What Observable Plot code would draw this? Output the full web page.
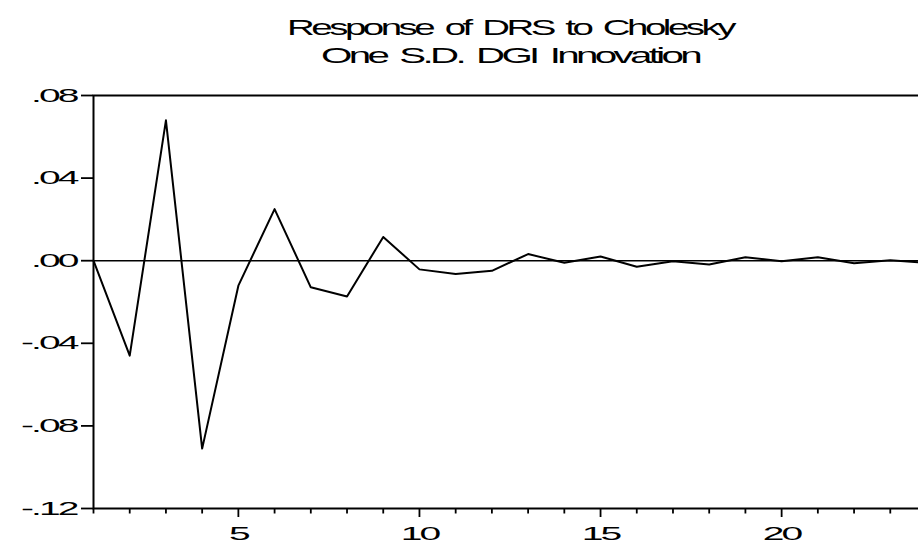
<!DOCTYPE html>
<html>
<head>
<meta charset="utf-8">
<script src="https://cdn.jsdelivr.net/npm/d3@7"></script>
<script src="https://cdn.jsdelivr.net/npm/@observablehq/plot@0.6"></script>
<style>
  html, body { margin: 0; padding: 0; background: #fff; overflow: hidden; }
  #chart svg { display: block; }
</style>
</head>
<body>
<div id="chart"></div>
<script>
// ---- data ----
const titleLines = ["Response of DRS to Cholesky", "One S.D. DGI Innovation"];
const periods = [1,2,3,4,5,6,7,8,9,10,11,12,13,14,15,16,17,18,19,20,21,22,23,24];
const response = [0.0, -0.046, 0.068, -0.091, -0.0121, 0.025, -0.0129, -0.0173, 0.0115,
  -0.0042, -0.0064, -0.0049, 0.0032, -0.0010, 0.0020, -0.0029, -0.0003, -0.0018,
  0.0017, -0.0003, 0.0017, -0.0012, 0.0002, -0.0010];
const yTicks = [-0.12, -0.08, -0.04, 0.00, 0.04, 0.08];
const yTickLabels = ["-.12", "-.08", "-.04", ".00", ".04", ".08"];
const xMajorTicks = [5, 10, 15, 20];
const xMinorTicks = periods.filter(d => d % 5 !== 0);

const data = periods.map((p, i) => ({period: p, value: response[i]}));
const yLabelMap = new Map(yTicks.map((t, i) => [t.toFixed(2), yTickLabels[i]]));

const font = "'Liberation Sans', Arial, sans-serif";

const chart = Plot.plot({
  width: 918,
  height: 543,
  marginTop: 95,
  marginBottom: 35,
  marginLeft: 93,
  marginRight: -8,
  style: {fontFamily: font, fontSize: "19px", color: "#000", background: "#fff"},
  x: {domain: [1, 24]},
  y: {domain: [-0.12, 0.08]},
  marks: [
    Plot.axisY({ticks: yTicks, tickSize: 12, tickPadding: 5, tickFormat: d => yLabelMap.get(d.toFixed(2)),
      label: null, strokeWidth: 1.8, fontSize: 19}),
    Plot.axisX({ticks: xMinorTicks, tickSize: 5.5, tickFormat: () => "", label: null, strokeWidth: 1.8}),
    Plot.axisX({ticks: xMajorTicks, tickSize: 9, tickPadding: 9, label: null, strokeWidth: 1.8, fontSize: 19}),
    Plot.ruleY([0], {stroke: "#000", strokeWidth: 1.5}),
    Plot.frame({stroke: "#000", strokeWidth: 2}),
    Plot.line(data, {x: "period", y: "value", stroke: "#000", strokeWidth: 2})
  ]
});

document.getElementById("chart").appendChild(chart);

// widen tick label glyphs (the reference uses a horizontally stretched face)
d3.select(chart).selectAll("g[aria-label$='tick label'] text").each(function() {
  const t = this.getAttribute("transform") || "";
  this.setAttribute("transform", t + " scale(2.05,1)");
  this.style.letterSpacing = "-1.4px";
});

// title
const svg = d3.select(chart);
const tl = [{text: titleLines[0], y: 35, len: 446}, {text: titleLines[1], y: 63, len: 378}];
svg.append("g")
  .attr("font-family", font)
  .attr("font-size", 22)
  .attr("fill", "#000")
  .attr("text-anchor", "middle")
  .style("letter-spacing", "-2px")
  .style("word-spacing", "3px")
  .selectAll("text").data(tl).join("text")
  .attr("x", 510)
  .attr("y", d => d.y)
  .attr("textLength", d => d.len)
  .attr("lengthAdjust", "spacingAndGlyphs")
  .text(d => d.text);
</script>
</body>
</html>
